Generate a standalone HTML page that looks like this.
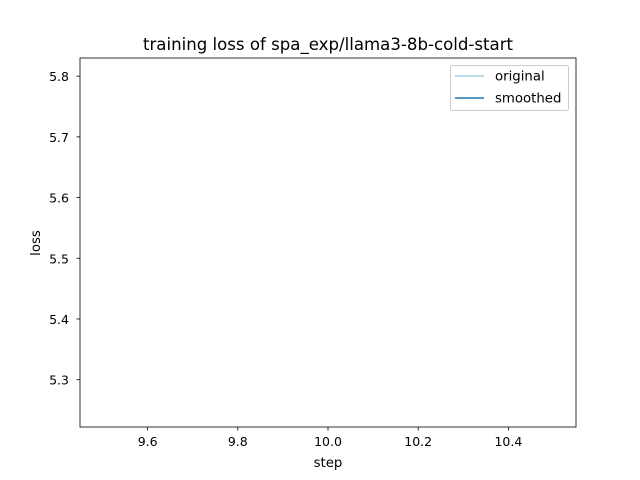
<!DOCTYPE html>
<html><head><meta charset="utf-8"><style>
html,body{margin:0;padding:0;background:#fff;}
svg{display:block;font-family:"DejaVu Sans","Liberation Sans",sans-serif;}
</style></head><body>
<svg id="chart" width="640" height="480">
<rect width="640" height="480" fill="#fff"/>
<text x="328" y="50" font-size="16.6" text-anchor="middle">training loss of spa_exp/llama3-8b-cold-start</text>
<g id="xticks"></g>
<g id="yticks"></g>
<g id="series"></g>
<rect x="80" y="58" width="496" height="369" fill="none" stroke="#000" stroke-width="0.8"/>
<text x="328" y="467" font-size="13.3" text-anchor="middle">step</text>
<text x="0" y="0" font-size="13.3" text-anchor="middle" transform="translate(40,243) rotate(-90)">loss</text>
<g>
<rect x="450.5" y="65.5" width="118" height="45" rx="2" fill="#fff" stroke="#ccc"/>
<line x1="455" y1="76" x2="484" y2="76" stroke="#a6cee3" stroke-width="1.5"/>
<text x="495" y="80.5" font-size="13.3">original</text>
<line x1="455" y1="98" x2="484" y2="98" stroke="#1f78b4" stroke-width="1.5"/>
<text x="495" y="102.5" font-size="13.3">smoothed</text>
</g>
</svg>
<script>
const steps = [10];
const lossOriginal = [5.526];
const lossSmoothed = [5.526];
const xTickLabels = ["9.6","9.8","10.0","10.2","10.4"];
const yTickLabels = ["5.3","5.4","5.5","5.6","5.7","5.8"];

const NS = "http://www.w3.org/2000/svg";
const L = 80, R = 576, T = 58, B = 427;
const xMin = Math.min(...steps) - 0.55, xMax = Math.max(...steps) + 0.55;
const allY = lossOriginal.concat(lossSmoothed);
const yc = (Math.min(...allY) + Math.max(...allY)) / 2;
const yHalf = Math.max((Math.max(...allY) - Math.min(...allY)) / 2, Math.abs(yc) * 0.05) * 1.1;
const yMin = yc - yHalf, yMax = yc + yHalf;
const xs = v => L + (v - xMin) / (xMax - xMin) * (R - L);
const ys = v => B - (v - yMin) / (yMax - yMin) * (B - T);

const xg = document.getElementById('xticks');
xTickLabels.forEach(t => {
  const x = xs(parseFloat(t));
  const ln = document.createElementNS(NS, 'line');
  ln.setAttribute('x1', x); ln.setAttribute('x2', x); ln.setAttribute('y1', B); ln.setAttribute('y2', B + 3.5);
  ln.setAttribute('stroke', '#000'); ln.setAttribute('stroke-width', '0.8');
  
  
  xg.appendChild(ln);
  const tx = document.createElementNS(NS, 'text');
  tx.setAttribute('x', x); tx.setAttribute('y', B + 19); tx.setAttribute('font-size', '12.5');
  tx.setAttribute('text-anchor', 'middle'); tx.textContent = t;
  
  
  xg.appendChild(tx);
});
const yg = document.getElementById('yticks');
yTickLabels.forEach(t => {
  const y = ys(parseFloat(t));
  const ln = document.createElementNS(NS, 'line');
  ln.setAttribute('x1', L - 3.5); ln.setAttribute('x2', L); ln.setAttribute('y1', y); ln.setAttribute('y2', y);
  ln.setAttribute('stroke', '#000'); ln.setAttribute('stroke-width', '0.8');
  
  
  yg.appendChild(ln);
  const tx = document.createElementNS(NS, 'text');
  tx.setAttribute('x', L - 11); tx.setAttribute('y', y + 5); tx.setAttribute('font-size', '12.5');
  tx.setAttribute('text-anchor', 'end'); tx.textContent = t;
  
  
  yg.appendChild(tx);
});
const sg = document.getElementById('series');
[[lossOriginal, '#a6cee3', 'original-line'], [lossSmoothed, '#1f78b4', 'smoothed-line']].forEach(([vals, col, nm]) => {
  const pl = document.createElementNS(NS, 'polyline');
  pl.setAttribute('points', steps.map((s, i) => xs(s) + ',' + ys(vals[i])).join(' '));
  pl.setAttribute('fill', 'none'); pl.setAttribute('stroke', col); pl.setAttribute('stroke-width', '1.5');
  
  
  sg.appendChild(pl);
});
</script>
</body></html>
